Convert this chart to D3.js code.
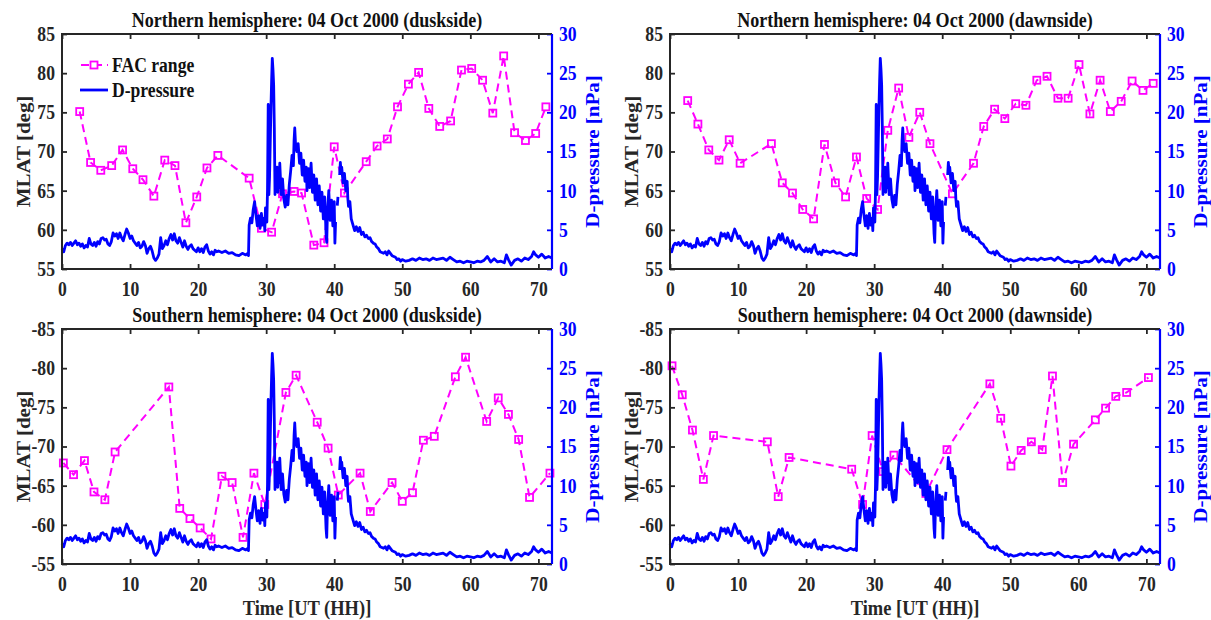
<!DOCTYPE html>
<html>
<head>
<meta charset="utf-8">
<script src="https://cdn.jsdelivr.net/npm/d3@7"></script>
<style>
  body { margin: 0; background: #fff; }
  svg text { font-family: "Liberation Serif", "Times New Roman", serif; font-weight: bold; }
</style>
</head>
<body>
<div id="chart"></div>
<script>
// D-pressure (same series in all four panels), hours UT from 04 Oct 2000 00:00
var pressTime = [0,0.25,0.5,0.75,1,1.25,1.5,1.75,2,2.25,2.5,2.75,3,3.25,3.5,3.75,4,4.25,4.5,4.75,5,5.25,5.5,5.75,6,6.25,6.5,6.75,7,7.25,7.5,7.75,8,8.25,8.5,8.75,9,9.25,9.5,9.75,10,10.25,10.5,10.75,11,11.25,11.5,11.75,12,12.25,12.5,12.75,13,13.25,13.5,13.75,14,14.25,14.5,14.75,15,15.25,15.5,15.75,16,16.25,16.5,16.75,17,17.25,17.5,17.75,18,18.25,18.5,18.75,19,19.25,19.5,19.75,20,20.25,20.5,20.75,21,21.25,21.5,21.75,22,22.25,22.5,22.75,23,23.5,24,24.5,25,25.5,26,26.5,27,27.3,27.4,
  27.5,27.7,27.9,28.1,28.3,28.5,28.7,28.9,29.1,29.3,29.5,29.7,29.8,29.9,30.1,30.2,30.3,30.4,30.5,30.7,30.8,30.9,31,31.1,31.2,31.3,31.4,31.5,31.6,31.7,31.8,31.9,32,32.2,32.4,32.6,32.8,33,33.2,33.4,33.6,33.8,34,34.1,34.2,34.3,34.5,34.7,34.9,35.1,35.3,35.5,35.7,35.9,36,36.2,36.4,36.6,36.8,37,37.2,37.4,37.6,37.8,38,38.2,38.4,38.6,38.8,38.9,39,39.2,39.4,39.6,39.8,40,40.1,40.2,40.3,40.45,40.55,40.6,40.8,40.9,41,41.1,41.3,41.5,41.7,41.9,42,42.1,42.3,42.5,42.7,
  43,43.25,43.5,43.75,44,44.25,44.5,44.75,45,45.25,45.5,45.75,46,46.25,46.5,46.75,47,47.25,47.5,47.75,48,48.25,48.5,48.75,49,49.25,49.5,49.75,50,50.5,51,51.5,52,52.5,53,53.5,54,54.5,55,55.5,56,56.5,57,57.5,58,58.5,59,59.5,60,60.5,61,61.5,62,62.5,63,63.5,64,64.5,65,65.3,65.6,66,66.5,67,67.5,68,68.5,69,69.3,69.6,70,70.5,71,71.5,72];
var pressValue = [2.6,2.2,3.0,3.3,3.1,3.4,3.0,3.3,3.6,3.1,3.3,2.9,3.2,2.7,3.0,2.8,3.9,3.2,3.0,3.4,2.9,3.5,3.2,3.9,4.0,3.7,3.8,3.2,3.0,3.5,4.6,4.2,4.5,3.9,4.6,4.0,3.6,4.4,5.1,4.6,3.9,4.2,3.6,3.3,3.0,3.4,2.7,2.9,3.5,3.0,2.0,2.6,2.9,2.3,1.4,1.1,1.4,1.9,4.0,2.6,3.0,3.6,3.1,3.9,4.4,3.7,4.5,3.6,3.3,4.0,3.4,2.8,3.6,2.9,2.5,2.9,3.1,2.6,2.4,2.2,2.7,2.2,2.6,2.1,2.8,3.1,2.3,1.9,2.2,1.8,2.4,2.2,2.3,2.1,2.3,2.0,2.1,1.8,1.7,2.0,1.8,2.0,1.7,
  5.6,6.5,5.9,7.6,8.6,6.9,5.5,6.8,5.2,7.1,5.6,6.5,4.9,7.8,6.0,10.2,21.0,9.5,11.8,20.5,24.0,26.9,25.5,23.5,18.0,9.5,12.5,10.0,13.0,9.8,12.0,10.4,13.5,9.5,11.5,8.9,7.9,9.4,8.2,10.8,12.5,14.5,13.2,16.4,18.0,16.2,15.0,16.0,13.5,14.8,12.0,13.9,11.2,13.0,10.0,12.8,10.4,13.5,9.8,12.0,8.8,11.5,8.2,10.6,7.4,9.8,6.4,9.2,4.5,3.4,7.0,10.0,6.2,8.8,5.5,8.6,3.3,6.0,null,8.1,9.2,null,12.0,13.6,12.4,13.0,11.0,12.2,10.0,11.2,9.0,8.0,8.6,6.4,5.8,
  4.9,5.4,4.8,5.3,4.4,4.7,4.1,4.3,3.9,4.0,3.5,3.3,3.2,2.8,2.6,2.2,2.1,2.0,2.2,1.8,2.3,2.0,1.7,1.6,1.5,1.2,1.3,1.0,1.2,1.0,1.1,1.3,1.1,1.4,1.2,1.3,1.1,1.4,1.2,1.3,1.4,1.1,1.5,1.2,0.9,1.0,0.8,1.0,0.9,0.8,1.0,0.9,1.1,1.6,0.9,1.3,0.9,1.0,0.8,1.8,1.2,0.5,1.1,1.3,1.0,1.4,1.2,1.6,2.2,1.8,1.5,1.9,1.4,1.6,1.4];

// FAC range MLAT, northern duskside
var nDuskTime = [2.6,4.2,5.7,7.3,8.9,10.4,11.9,13.5,15.1,16.6,18.2,19.8,21.3,22.9,27.5,29.3,30.8,32.4,34.1,35.2,37.0,38.5,40.0,41.5,44.7,46.3,47.8,49.3,50.9,52.4,53.9,55.5,57.1,58.7,60.2,61.8,63.3,64.9,66.5,68.1,69.6,71.1];
var nDuskLat = [75.1,68.6,67.6,68.2,70.2,67.8,66.4,64.3,68.9,68.2,60.9,64.2,67.9,69.5,66.6,60.2,59.7,64.6,64.9,64.7,58.05,58.35,70.6,64.7,68.7,70.7,71.6,75.7,78.6,80.1,75.5,73.2,73.9,80.4,80.6,79.1,74.9,82.2,72.4,71.4,72.3,75.7];

// northern dawnside
var nDawnTime = [2.6,4.1,5.7,7.2,8.7,10.3,14.9,16.5,18.0,19.5,21.1,22.7,24.3,25.8,27.4,28.9,30.5,32.0,33.6,35.1,36.7,38.2,41.5,44.6,46.1,47.7,49.2,50.8,52.3,53.9,55.4,57.0,58.5,60.1,61.7,63.2,64.7,66.3,67.9,69.5,71.0];
var nDawnLat = [76.5,73.5,70.2,68.9,71.5,68.5,71.0,66.0,64.7,62.6,61.4,70.9,66.0,64.2,69.3,64.0,62.6,72.7,78.1,71.8,75.0,71.0,64.6,68.5,73.2,75.4,74.2,76.1,75.9,79.1,79.6,76.8,76.8,81.1,74.8,79.1,75.1,76.4,79.0,77.8,78.7];

// southern duskside
var sDuskTime = [0.2,1.7,3.3,4.7,6.3,7.8,15.7,17.3,18.8,20.3,21.9,23.5,25.0,26.6,28.2,29.8,32.9,34.4,37.5,39.1,40.6,43.8,45.3,48.5,50.0,51.5,53.1,54.7,57.8,59.3,62.4,64.1,65.6,67.1,68.7,71.7];
var sDuskLat = [-67.9,-66.4,-68.2,-64.2,-63.2,-69.3,-77.6,-62.1,-60.8,-59.6,-58.2,-66.2,-65.4,-58.4,-66.6,-62.6,-76.9,-79.1,-73.1,-69.8,-63.8,-66.6,-61.7,-65.4,-63.0,-64.1,-70.8,-71.3,-78.9,-81.4,-73.2,-76.2,-74.1,-70.9,-63.5,-66.6];

// southern dawnside
var sDawnTime = [0.3,1.8,3.3,4.9,6.4,14.3,15.9,17.5,26.7,28.3,29.7,31.3,32.9,37.6,40.7,47.0,48.6,50.1,51.6,53.1,54.7,56.2,57.7,59.3,62.5,64.0,65.5,67.1,70.3];
var sDawnLat = [-80.3,-76.6,-72.1,-65.8,-71.4,-70.6,-63.6,-68.6,-67.1,-62.6,-71.4,-66.8,-68.9,-64.0,-69.6,-78.0,-73.6,-67.5,-69.5,-70.6,-69.6,-79.0,-65.4,-70.3,-73.4,-74.9,-76.4,-76.9,-78.8];

var timeTicks = [0,10,20,30,40,50,60,70];
var northTicks = [55,60,65,70,75,80,85];
var southTicks = [-85,-80,-75,-70,-65,-60,-55];
var pressTicks = [0,5,10,15,20,25,30];

var panels = [
  { title: "Northern hemisphere: 04 Oct 2000 (duskside)", t: nDuskTime, lat: nDuskLat, north: true, left: 62, top: 34, legend: true },
  { title: "Northern hemisphere: 04 Oct 2000 (dawnside)", t: nDawnTime, lat: nDawnLat, north: true, left: 670, top: 34 },
  { title: "Southern hemisphere: 04 Oct 2000 (duskside)", t: sDuskTime, lat: sDuskLat, north: false, left: 62, top: 329, xlabel: true },
  { title: "Southern hemisphere: 04 Oct 2000 (dawnside)", t: sDawnTime, lat: sDawnLat, north: false, left: 670, top: 329, xlabel: true }
];

var pw = 490, ph = 235;
var dark = "#262626", mag = "#ff00ff", blue = "#0000ff";
var SX = 0.88; // the figure text is horizontally condensed
var plain = function(d) { return String(d); }; // hyphen minus like the original

var svg = d3.select("#chart").append("svg")
  .attr("width", 1211)
  .attr("height", 620);

var pressData = pressTime.map(function(t, i) { return { t: t, v: pressValue[i] }; });

panels.forEach(function(p) {
  var g = svg.append("g").attr("transform", "translate(" + p.left + "," + p.top + ")");

  var x = d3.scaleLinear().domain([0, 72]).range([0, pw]);
  var y = p.north ? d3.scaleLinear().domain([55, 85]).range([ph, 0])
                  : d3.scaleLinear().domain([-55, -85]).range([ph, 0]);
  var y2 = d3.scaleLinear().domain([0, 30]).range([ph, 0]);

  // FAC range
  var fac = p.t.map(function(t, i) { return { t: t, v: p.lat[i] }; });
  g.append("path")
    .datum(fac)
    .attr("fill", "none")
    .attr("stroke", mag)
    .attr("stroke-width", 2)
    .attr("stroke-dasharray", "8,5")
    .attr("d", d3.line().x(function(d) { return x(d.t); }).y(function(d) { return y(d.v); }));
  g.selectAll("rect.mk")
    .data(fac)
    .enter().append("rect")
    .attr("class", "mk")
    .attr("x", function(d) { return x(d.t) - 3.5; })
    .attr("y", function(d) { return y(d.v) - 3.5; })
    .attr("width", 7).attr("height", 7)
    .attr("fill", "none")
    .attr("stroke", mag)
    .attr("stroke-width", 1.8);

  // D-pressure
  g.append("path")
    .datum(pressData)
    .attr("fill", "none")
    .attr("stroke", blue)
    .attr("stroke-width", 2.8)
    .attr("stroke-linejoin", "round")
    .attr("d", d3.line()
      .defined(function(d) { return d.v !== null; })
      .x(function(d) { return x(d.t); })
      .y(function(d) { return y2(d.v); }));

  // axes, ticks pointing inward
  var ax = g.append("g").attr("transform", "translate(0," + ph + ")")
    .call(d3.axisBottom(x).tickValues(timeTicks).tickFormat(plain).tickSizeInner(-5).tickSizeOuter(0).tickPadding(13));
  var axTop = g.append("g")
    .call(d3.axisTop(x).tickValues(timeTicks).tickSizeInner(-5).tickSizeOuter(0).tickFormat(""));
  var ayl = g.append("g")
    .call(d3.axisLeft(y).tickValues(p.north ? northTicks : southTicks).tickFormat(plain).tickSizeInner(-5).tickSizeOuter(0).tickPadding(8));
  var ayr = g.append("g").attr("transform", "translate(" + pw + ",0)")
    .call(d3.axisRight(y2).tickValues(pressTicks).tickFormat(plain).tickSizeInner(-5).tickSizeOuter(0).tickPadding(8));

  [ax, axTop, ayl, ayr].forEach(function(a) {
    a.select(".domain").remove();
    a.selectAll("line").attr("stroke-width", 1.8);
    a.selectAll("text")
      .style("font-size", "20px")
      .attr("transform", "scale(" + SX + ",1)");
  });
  [ax, axTop, ayl].forEach(function(a) {
    a.selectAll("line").attr("stroke", dark);
    a.selectAll("text").attr("fill", dark);
  });
  ayr.selectAll("line").attr("stroke", blue);
  ayr.selectAll("text").attr("fill", blue);

  // box
  g.append("path")
    .attr("d", "M" + pw + ",0H0V" + ph + "H" + pw)
    .attr("fill", "none").attr("stroke", dark).attr("stroke-width", 2);
  g.append("line")
    .attr("x1", pw).attr("x2", pw).attr("y1", 0).attr("y2", ph)
    .attr("stroke", blue).attr("stroke-width", 2.2);

  // title
  g.append("g").attr("transform", "translate(" + (pw / 2) + ",-7)")
    .append("text")
    .attr("text-anchor", "middle")
    .attr("transform", "scale(" + SX + ",1)")
    .style("font-size", "20.5px")
    .attr("fill", "#111")
    .text(p.title);

  // y labels
  g.append("text")
    .attr("transform", "translate(-32," + (ph / 2) + ") rotate(-90) scale(1," + SX + ")")
    .attr("text-anchor", "middle")
    .style("font-size", "21px")
    .attr("fill", dark)
    .text("MLAT [deg]");
  g.append("text")
    .attr("transform", "translate(" + (pw + 47) + "," + (ph / 2) + ") rotate(-90) scale(1," + SX + ")")
    .attr("text-anchor", "middle")
    .style("font-size", "21px")
    .attr("fill", blue)
    .text("D-pressure [nPa]");

  if (p.xlabel) {
    g.append("g").attr("transform", "translate(" + (pw / 2) + "," + (ph + 51) + ")")
      .append("text")
      .attr("text-anchor", "middle")
      .attr("transform", "scale(" + SX + ",1)")
      .style("font-size", "21px")
      .attr("fill", dark)
      .text("Time [UT (HH)]");
  }

  if (p.legend) {
    var lg = g.append("g").attr("transform", "translate(18,31)");
    lg.append("line").attr("x1", 0).attr("x2", 28).attr("y1", 0).attr("y2", 0)
      .attr("stroke", mag).attr("stroke-width", 2).attr("stroke-dasharray", "8,5").attr("stroke-dashoffset", -1);
    lg.append("rect").attr("x", 10.5).attr("y", -3.5).attr("width", 7).attr("height", 7)
      .attr("fill", "#fff").attr("stroke", mag).attr("stroke-width", 1.8);
    lg.append("line").attr("x1", 0).attr("x2", 28).attr("y1", 25).attr("y2", 25)
      .attr("stroke", blue).attr("stroke-width", 2.8);
    lg.selectAll("g.lt")
      .data(["FAC range", "D-pressure"])
      .enter().append("g")
      .attr("transform", function(d, i) { return "translate(32," + (i * 25 + 7) + ")"; })
      .append("text")
      .attr("transform", "scale(" + SX + ",1)")
      .style("font-size", "20px")
      .attr("fill", "#111")
      .text(function(d) { return d; });
  }
});
</script>
</body>
</html>
